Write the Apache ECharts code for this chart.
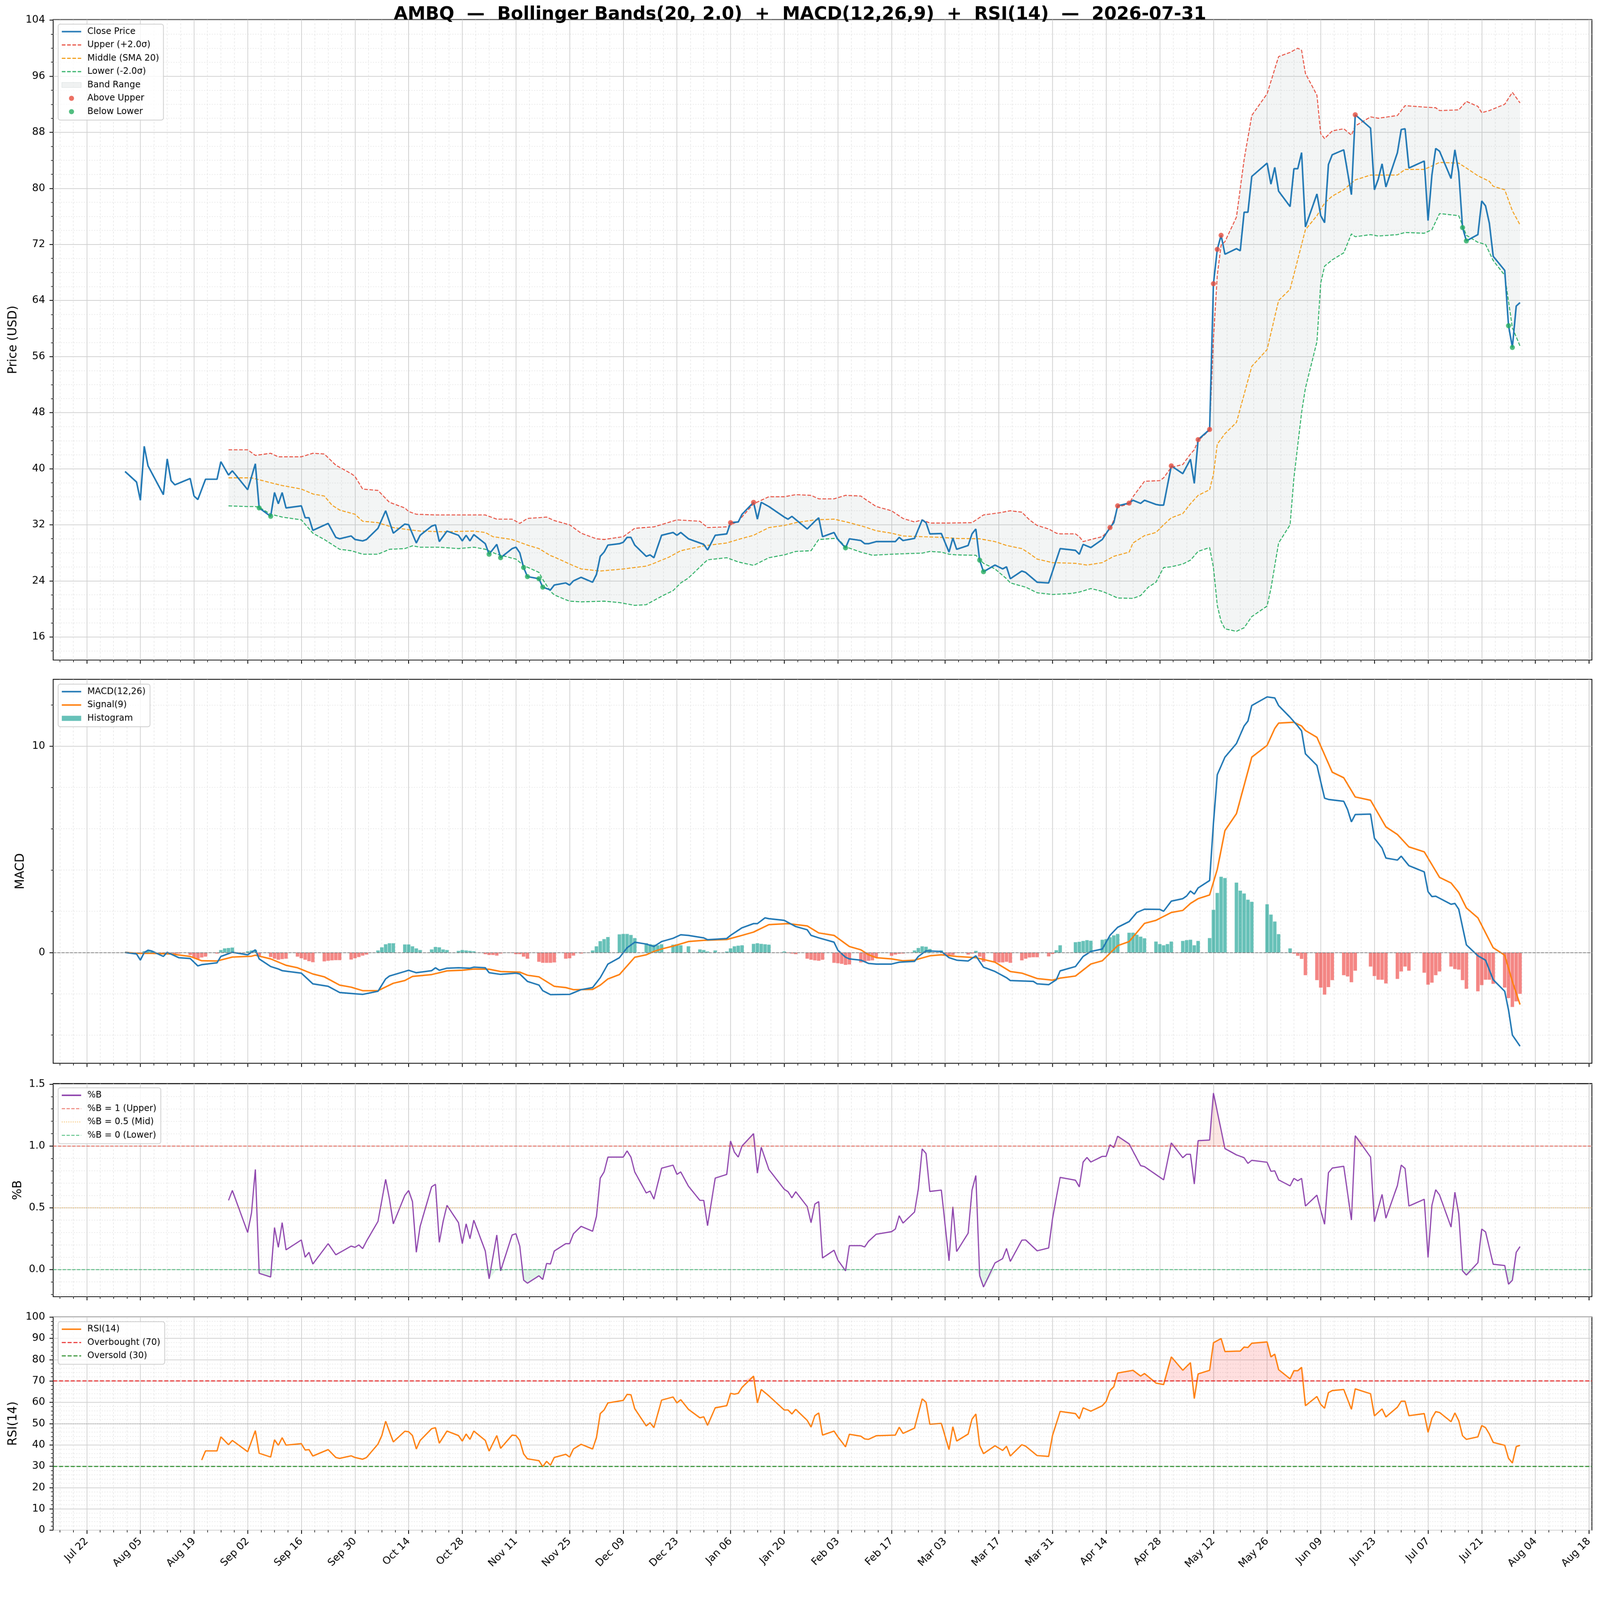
<!DOCTYPE html>
<html>
<head>
<meta charset="utf-8">
<title>AMBQ Bollinger / MACD / RSI</title>
<script src="https://cdn.jsdelivr.net/npm/echarts@6/dist/echarts.min.js"></script>
<style>
  html, body { margin: 0; padding: 0; background: #fff; overflow: hidden; }
  #main { width: 4378px; height: 4322px; transform-origin: 0 0; }
</style>
</head>
<body>
<div id="main"></div>
<script type="text/javascript">
// x values are calendar days counted from Tue 2025-07-22 (day 0)
var tickDays = [0, 14, 28, 42, 56, 70, 84, 98, 112, 126, 140, 154, 168, 182, 196, 210, 224, 238, 252, 266, 280, 294, 308, 322, 336, 350, 364, 378, 392];
var tickLabels = ['Jul 22', 'Aug 05', 'Aug 19', 'Sep 02', 'Sep 16', 'Sep 30', 'Oct 14', 'Oct 28', 'Nov 11', 'Nov 25', 'Dec 09', 'Dec 23', 'Jan 06', 'Jan 20', 'Feb 03', 'Feb 17', 'Mar 03', 'Mar 17', 'Mar 31', 'Apr 14', 'Apr 28', 'May 12', 'May 26', 'Jun 09', 'Jun 23', 'Jul 07', 'Jul 21', 'Aug 04', 'Aug 18'];

// market holidays inside the range (Labor Day ... Independence Day observed)
var holidays = [41, 128, 156, 163, 181, 209, 255, 307, 332, 346];

var closePrice = [[10,39.6],[13,38.1],[14,35.5],[15,43.2],[16,40.4],[20,36.3],[21,41.4],[22,38.3],[23,37.7],[27,38.6],[28,36.1],[29,35.6],[31,38.5],[34,38.5],[35,41.0],[37,39.1],[38,39.7],[42,37.0],[44,40.7],[45,34.4],[48,33.2],[49,36.6],[50,35.0],[51,36.6],[52,34.4],[56,34.7],[57,33.0],[58,33.0],[59,31.2],[63,32.2],[65,30.2],[66,30.0],[69,30.4],[70,29.9],[72,29.7],[73,29.9],[76,31.5],[78,34.0],[80,30.8],[83,32.1],[84,32.0],[86,29.4],[87,30.5],[90,31.8],[91,32.0],[92,29.6],[94,31.1],[97,30.5],[98,29.7],[99,30.5],[100,29.7],[101,30.6],[104,29.3],[105,27.8],[107,29.2],[108,27.3],[111,28.6],[112,28.8],[113,28.0],[114,25.9],[115,24.6],[118,24.3],[119,23.1],[121,22.7],[122,23.4],[125,23.7],[126,23.4],[127,24.0],[129,24.5],[132,23.8],[133,24.9],[134,27.5],[135,28.1],[136,29.1],[139,29.3],[140,29.5],[141,30.2],[142,30.2],[143,29.1],[146,27.5],[147,27.7],[148,27.3],[150,30.5],[153,30.9],[154,30.5],[155,30.9],[157,30.0],[160,29.4],[161,29.2],[162,28.4],[164,30.5],[167,30.7],[168,32.3],[170,32.4],[171,33.5],[174,35.2],[175,32.8],[176,35.2],[178,34.6],[182,33.1],[183,32.8],[184,33.2],[188,31.4],[190,32.5],[191,33.0],[192,30.3],[195,30.9],[196,29.9],[198,28.7],[199,30.0],[202,29.75],[203,29.3],[204,29.3],[206,29.6],[211,29.6],[212,30.2],[213,29.75],[216,30.05],[218,32.7],[219,32.3],[220,30.7],[223,30.75],[225,28.1],[226,30.1],[227,28.5],[230,29.05],[231,30.7],[232,31.4],[233,26.95],[234,25.3],[237,26.25],[239,25.7],[240,26.0],[241,24.3],[244,25.4],[245,25.2],[248,23.8],[251,23.7],[254,28.6],[258,28.35],[259,27.8],[260,29.2],[262,28.75],[265,29.9],[267,31.6],[268,32.3],[269,34.7],[272,35.1],[273,35.5],[275,35.05],[276,35.5],[279,34.9],[280,34.8],[281,34.8],[283,40.4],[286,39.3],[288,41.35],[289,37.9],[290,44.15],[293,45.6],[294,66.4],[295,71.3],[296,73.3],[297,70.6],[300,71.4],[301,71.1],[302,76.6],[303,76.6],[304,81.7],[308,83.6],[309,80.6],[310,83.0],[311,79.6],[314,77.4],[315,82.8],[316,82.8],[317,85.1],[318,74.5],[321,79.2],[322,76.1],[323,75.1],[324,83.4],[325,84.8],[328,85.5],[330,79.1],[331,90.5],[335,88.6],[336,79.8],[337,81.3],[338,83.5],[339,80.2],[342,85.1],[343,88.4],[344,88.5],[345,82.9],[349,83.9],[350,75.4],[351,81.9],[352,85.7],[353,85.3],[356,81.4],[357,85.5],[358,82.3],[359,74.4],[360,72.5],[363,73.4],[364,78.2],[365,77.5],[366,75.0],[367,70.3],[370,68.3],[371,60.4],[372,57.3],[373,63.2],[374,63.7]];

var upperBand = [[37,42.7],[42,42.7],[44,41.9],[48,42.2],[50,41.7],[56,41.7],[59,42.2],[62,42.1],[65,40.5],[69,39.3],[70,38.9],[72,37.1],[76,36.9],[79,35.2],[83,34.4],[84,33.9],[86,33.5],[91,33.4],[104,33.4],[107,32.8],[111,32.8],[113,32.2],[115,32.9],[120,33.1],[122,32.6],[126,32.0],[129,30.8],[133,30.0],[135,29.9],[140,30.3],[143,31.5],[148,31.7],[154,32.7],[160,32.5],[162,31.6],[167,31.7],[170,32.5],[174,35.0],[178,36.0],[182,36.0],[185,36.3],[189,36.2],[191,35.7],[195,35.7],[198,36.2],[202,36.1],[203,35.7],[206,34.6],[210,34.0],[213,32.9],[216,32.4],[218,32.7],[220,32.25],[225,32.25],[231,32.3],[234,33.4],[238,33.7],[241,34.0],[244,33.8],[246,32.7],[248,31.9],[251,31.4],[253,30.8],[254,30.7],[258,30.7],[259,30.3],[260,29.6],[262,29.9],[265,30.3],[267,31.4],[268,32.7],[269,34.5],[272,35.0],[273,36.0],[276,38.2],[280,38.3],[281,38.7],[283,40.2],[286,40.6],[288,42.1],[289,42.7],[290,44.0],[293,45.5],[294,58.5],[295,67.6],[296,71.9],[297,72.4],[300,75.9],[302,84.1],[304,90.4],[308,93.5],[311,98.8],[314,99.4],[316,100.0],[317,99.7],[318,96.4],[321,93.3],[322,87.8],[323,87.1],[325,88.2],[328,88.5],[330,87.6],[331,88.9],[335,90.2],[337,90.0],[342,90.4],[344,91.8],[349,91.6],[352,91.5],[353,91.1],[358,91.2],[360,92.4],[363,91.7],[364,90.8],[366,91.1],[370,92.0],[372,93.7],[374,92.2]];

var middleBand = [[37,38.7],[43,38.7],[48,38.0],[51,37.6],[56,37.1],[59,36.4],[62,36.1],[64,34.8],[66,34.1],[70,33.5],[72,32.5],[76,32.3],[80,31.6],[84,31.3],[87,31.1],[93,31.0],[101,31.1],[104,30.9],[106,30.3],[111,29.9],[115,29.1],[118,28.6],[121,27.6],[122,27.4],[126,26.4],[129,25.7],[134,25.4],[140,25.7],[146,26.1],[148,26.5],[152,27.4],[155,28.3],[161,29.0],[167,29.4],[170,29.9],[174,30.5],[178,31.6],[182,31.9],[185,32.3],[190,32.7],[195,32.8],[199,32.3],[203,31.7],[206,31.15],[210,30.8],[213,30.4],[218,30.3],[223,30.2],[227,30.05],[233,30.0],[237,29.6],[240,29.05],[244,28.6],[246,27.9],[248,27.1],[252,26.6],[258,26.5],[261,26.25],[265,26.6],[268,27.5],[272,28.1],[273,29.4],[276,30.45],[279,30.9],[281,32.0],[283,33.0],[286,33.6],[288,35.0],[290,36.2],[293,37.0],[294,39.2],[295,43.5],[297,45.0],[300,46.6],[304,54.6],[308,57.0],[311,64.0],[314,65.6],[318,74.1],[321,76.1],[323,77.9],[325,78.9],[328,79.8],[331,81.2],[335,81.9],[342,81.9],[344,82.7],[349,82.7],[353,83.7],[358,83.6],[360,82.9],[363,81.8],[366,81.0],[367,80.3],[370,79.8],[372,76.8],[374,74.8]];

var lowerBand = [[37,34.7],[42,34.6],[44,34.6],[45,34.5],[48,33.5],[51,33.1],[56,32.7],[59,30.8],[62,29.9],[66,28.5],[69,28.3],[72,27.8],[76,27.8],[79,28.5],[83,28.6],[85,29.0],[87,28.8],[92,28.8],[97,28.6],[101,28.8],[104,28.5],[107,27.8],[112,27.1],[114,26.2],[118,25.2],[119,24.2],[121,22.5],[122,22.0],[125,21.3],[126,21.1],[129,21.0],[135,21.1],[139,20.9],[143,20.5],[146,20.6],[150,21.8],[153,22.6],[155,23.7],[157,24.4],[161,26.5],[162,27.0],[167,27.3],[170,26.7],[174,26.2],[178,27.3],[182,27.7],[185,28.2],[189,28.3],[191,29.9],[195,30.05],[196,30.0],[198,28.85],[202,28.1],[205,27.65],[210,27.8],[215,27.9],[218,27.95],[220,28.2],[223,28.1],[225,27.8],[227,27.7],[232,27.65],[234,26.5],[237,25.7],[240,24.3],[241,23.7],[245,23.1],[248,22.3],[252,22.05],[257,22.2],[259,22.4],[262,22.9],[265,22.5],[268,21.8],[269,21.55],[273,21.5],[275,21.9],[277,23.1],[279,23.8],[281,25.9],[283,26.0],[286,26.4],[288,26.95],[290,28.2],[293,28.75],[294,25.9],[295,20.5],[296,18.2],[297,17.15],[300,16.8],[302,17.3],[304,18.9],[308,20.4],[309,22.9],[311,29.4],[314,32.0],[315,38.7],[317,48.0],[318,51.5],[321,58.1],[322,66.5],[323,68.9],[325,69.8],[328,70.8],[330,73.5],[331,73.1],[335,73.4],[337,73.2],[342,73.4],[344,73.7],[349,73.6],[351,74.1],[353,76.4],[358,76.1],[360,73.3],[363,72.3],[365,72.0],[367,69.7],[370,67.6],[372,60.1],[374,57.5]];

var aboveUpper = [[168,32.3],[174,35.2],[267,31.6],[269,34.7],[272,35.1],[283,40.4],[290,44.15],[293,45.6],[294,66.4],[295,71.3],[296,73.3],[331,90.5]];
var belowLower = [[45,34.4],[48,33.2],[105,27.8],[108,27.3],[114,25.9],[115,24.6],[118,24.3],[119,23.1],[198,28.7],[233,26.95],[234,25.3],[359,74.4],[360,72.5],[371,60.4],[372,57.3]];

var macdLine = [[10,0],[13,-0.07],[14,-0.37],[15,0.0],[16,0.11],[17,0.07],[20,-0.19],[21,0.01],[24,-0.25],[27,-0.29],[29,-0.65],[30,-0.59],[34,-0.5],[35,-0.19],[38,0.01],[42,-0.11],[44,0.13],[45,-0.31],[48,-0.68],[50,-0.8],[51,-0.88],[56,-1.0],[59,-1.52],[63,-1.64],[66,-1.94],[70,-2.0],[72,-2.03],[76,-1.88],[78,-1.28],[79,-1.14],[83,-0.92],[84,-0.86],[86,-0.98],[90,-0.88],[91,-0.74],[92,-0.86],[94,-0.76],[97,-0.74],[100,-0.76],[101,-0.71],[104,-0.74],[105,-0.98],[108,-1.06],[112,-1.0],[113,-1.04],[115,-1.4],[118,-1.58],[119,-1.85],[121,-2.04],[126,-2.03],[129,-1.8],[132,-1.7],[134,-1.22],[136,-0.56],[139,-0.25],[141,0.23],[143,0.5],[146,0.41],[148,0.29],[150,0.53],[153,0.69],[155,0.86],[157,0.83],[161,0.71],[162,0.62],[167,0.68],[168,0.83],[171,1.2],[174,1.4],[175,1.4],[177,1.68],[178,1.64],[182,1.56],[185,1.26],[188,1.1],[189,0.83],[191,0.71],[195,0.5],[196,0.11],[198,-0.23],[199,-0.31],[202,-0.37],[204,-0.53],[206,-0.56],[210,-0.56],[212,-0.47],[216,-0.43],[217,-0.19],[219,0.08],[223,0.05],[225,-0.25],[227,-0.37],[230,-0.41],[232,-0.16],[234,-0.71],[237,-0.92],[240,-1.22],[241,-1.36],[247,-1.4],[248,-1.52],[251,-1.56],[253,-1.32],[254,-0.89],[258,-0.68],[260,-0.19],[262,0.05],[265,0.17],[267,0.83],[269,1.22],[272,1.5],[274,1.94],[276,2.1],[280,2.09],[281,2.0],[283,2.49],[286,2.61],[287,2.74],[288,2.98],[289,2.83],[290,3.13],[293,3.49],[294,6.27],[295,8.62],[297,9.47],[300,10.13],[302,10.98],[303,11.22],[304,11.97],[308,12.39],[310,12.34],[311,11.97],[314,11.4],[316,10.98],[317,10.74],[318,9.63],[321,9.07],[323,7.48],[324,7.42],[328,7.33],[329,6.93],[330,6.33],[331,6.69],[335,6.71],[336,5.54],[338,5.06],[339,4.58],[342,4.48],[343,4.67],[345,4.21],[349,3.91],[350,2.95],[351,2.71],[352,2.73],[356,2.34],[357,2.38],[358,2.1],[360,0.37],[363,-0.16],[365,-0.37],[367,-1.32],[370,-1.88],[371,-2.79],[372,-4.0],[374,-4.54]];

var signalLine = [[10,0.01],[13,-0.04],[17,-0.04],[22,-0.07],[27,-0.19],[30,-0.4],[34,-0.41],[38,-0.22],[43,-0.18],[44,-0.13],[48,-0.31],[52,-0.62],[55,-0.74],[59,-1.04],[62,-1.18],[66,-1.58],[69,-1.68],[72,-1.85],[76,-1.85],[80,-1.49],[83,-1.36],[85,-1.16],[90,-1.07],[92,-0.98],[94,-0.89],[98,-0.86],[101,-0.8],[105,-0.81],[108,-0.92],[113,-0.95],[115,-1.1],[118,-1.18],[122,-1.64],[125,-1.7],[127,-1.8],[132,-1.79],[134,-1.58],[136,-1.28],[139,-1.07],[143,-0.23],[146,-0.11],[148,0.05],[150,0.17],[153,0.31],[157,0.53],[161,0.59],[167,0.63],[171,0.83],[174,0.99],[178,1.35],[183,1.4],[188,1.29],[191,0.95],[195,0.83],[199,0.29],[202,0.13],[204,-0.11],[206,-0.25],[210,-0.31],[213,-0.4],[216,-0.37],[220,-0.16],[223,-0.11],[227,-0.19],[232,-0.25],[237,-0.47],[241,-0.92],[244,-1.0],[248,-1.26],[252,-1.34],[254,-1.24],[258,-1.14],[262,-0.56],[265,-0.4],[269,0.33],[272,0.53],[276,1.41],[279,1.56],[283,1.94],[286,2.04],[288,2.38],[290,2.61],[293,2.79],[295,4.03],[297,5.91],[300,6.73],[304,9.47],[308,10.04],[310,10.86],[311,11.12],[315,11.16],[317,10.98],[318,10.76],[321,10.43],[325,8.74],[328,8.47],[331,7.54],[335,7.38],[339,6.09],[342,5.72],[345,5.12],[349,4.88],[353,3.64],[356,3.37],[358,2.91],[360,2.16],[363,1.68],[367,0.23],[370,-0.13],[372,-1.4],[374,-2.52]];

// one histogram value per trading day, week by week
var histValues = [
  0.01,
  -0.03, -0.02, 0.06, 0.07, 0.05,
  -0.04, -0.08, -0.03, -0.06, -0.05,
  -0.12, -0.25, -0.31, -0.24, -0.2,
  -0.05, 0.12, 0.2, 0.22, 0.24,
  0.06, 0.1, 0.12, -0.15,
  -0.22, -0.3, -0.35, -0.32, -0.3,
  -0.2, -0.28, -0.35, -0.42, -0.47,
  -0.43, -0.4, -0.38, -0.37, -0.37,
  -0.34, -0.28, -0.22, -0.15, -0.1,
  0.1, 0.25, 0.4, 0.45, 0.45,
  0.39, 0.39, 0.3, 0.2, 0.12,
  0.15, 0.27, 0.25, 0.15, 0.12,
  0.08, 0.12, 0.1, 0.08, 0.06,
  -0.08, -0.12, -0.12, -0.15, -0.05,
  -0.02, -0.08, -0.08, -0.2, -0.3,
  -0.45, -0.5, -0.5, -0.5, -0.48,
  -0.3, -0.28, -0.15, -0.05,
  0.1, 0.3, 0.55, 0.65, 0.75,
  0.88, 0.9, 0.9, 0.85, 0.7,
  0.45, 0.4, 0.38, 0.35, 0.4,
  0.38, 0.4, 0.35, 0.3,
  0.15, 0.12, 0.05, 0.1,
  0.05, 0.2, 0.3, 0.33, 0.35,
  0.42, 0.45, 0.42, 0.4, 0.38,
  0.05, -0.03, -0.05, -0.08,
  -0.3, -0.35, -0.38, -0.4, -0.35,
  -0.5, -0.52, -0.55, -0.6, -0.58,
  -0.48, -0.45, -0.4, -0.38, -0.26,
  -0.16, -0.1, -0.06, -0.05,
  0.1, 0.22, 0.3, 0.28, 0.17,
  0.1, -0.12, -0.15, -0.12, -0.02,
  -0.1, -0.05, 0.08, -0.2, -0.45,
  -0.45, -0.48, -0.48, -0.45, -0.5,
  -0.38, -0.3, -0.24, -0.23, -0.23,
  -0.19, -0.07, 0.11, 0.35,
  0.5, 0.52, 0.56, 0.6, 0.57,
  0.62, 0.65, 0.74, 0.83, 0.9,
  0.96, 0.96, 0.86, 0.77, 0.69,
  0.53, 0.41, 0.35, 0.41, 0.53,
  0.56, 0.6, 0.62, 0.35, 0.56,
  0.7, 2.07, 2.89, 3.67, 3.61,
  3.39, 3.0, 2.86, 2.56, 2.46,
  2.34, 1.84, 1.5, 0.89,
  0.2, -0.05, -0.16, -0.31, -1.1,
  -1.34, -1.7, -2.04, -1.68, -1.34,
  -1.1, -1.16, -1.44, -0.88,
  -0.68, -1.14, -1.32, -1.32, -1.5,
  -1.28, -0.92, -0.68, -0.88,
  -0.98, -1.56, -1.46, -1.1, -0.92,
  -0.68, -0.8, -0.83, -1.34, -1.76,
  -1.88, -1.58, -1.32, -1.32, -1.52,
  -1.7, -2.21, -2.64, -2.37, -2.0
];

var pctB = [[37,0.56],[38,0.64],[42,0.30],[43,0.46],[44,0.81],[45,-0.03],[48,-0.06],[49,0.34],[50,0.18],[51,0.38],[52,0.16],[56,0.24],[57,0.10],[58,0.14],[59,0.045],[63,0.21],[65,0.12],[69,0.19],[70,0.18],[71,0.20],[72,0.17],[73,0.23],[76,0.39],[78,0.73],[79,0.57],[80,0.37],[83,0.60],[84,0.64],[85,0.55],[86,0.14],[87,0.35],[90,0.67],[91,0.69],[92,0.22],[93,0.39],[94,0.52],[97,0.38],[98,0.21],[99,0.37],[100,0.25],[101,0.40],[104,0.15],[105,-0.075],[107,0.28],[108,-0.01],[111,0.28],[112,0.29],[113,0.19],[114,-0.085],[115,-0.11],[118,-0.05],[119,-0.08],[120,0.05],[121,0.045],[122,0.15],[125,0.21],[126,0.21],[127,0.29],[129,0.35],[132,0.31],[133,0.43],[134,0.74],[135,0.79],[136,0.91],[140,0.91],[141,0.96],[142,0.91],[143,0.79],[146,0.62],[147,0.635],[148,0.57],[150,0.82],[153,0.845],[154,0.77],[155,0.79],[157,0.675],[160,0.56],[161,0.56],[162,0.355],[164,0.74],[167,0.77],[168,1.04],[169,0.95],[170,0.91],[171,1.0],[174,1.10],[175,0.78],[176,0.99],[178,0.81],[182,0.65],[183,0.63],[184,0.58],[185,0.63],[188,0.51],[189,0.38],[190,0.53],[191,0.55],[192,0.094],[195,0.157],[196,0.077],[198,-0.01],[199,0.194],[202,0.194],[203,0.183],[204,0.229],[206,0.286],[210,0.307],[211,0.328],[212,0.436],[213,0.376],[216,0.466],[217,0.652],[218,0.976],[219,0.939],[220,0.632],[223,0.643],[225,0.071],[226,0.508],[227,0.146],[230,0.295],[231,0.643],[232,0.761],[233,-0.049],[234,-0.141],[237,0.054],[239,0.089],[240,0.171],[241,0.066],[244,0.238],[245,0.24],[248,0.152],[251,0.175],[252,0.41],[253,0.583],[254,0.746],[258,0.723],[259,0.669],[260,0.87],[261,0.907],[262,0.87],[265,0.916],[266,0.916],[267,1.01],[268,0.987],[269,1.079],[272,1.017],[275,0.841],[276,0.833],[281,0.726],[283,1.025],[286,0.905],[287,0.933],[288,0.933],[289,0.692],[290,1.043],[293,1.048],[294,1.428],[297,0.979],[300,0.928],[302,0.905],[303,0.859],[304,0.884],[308,0.868],[309,0.795],[310,0.799],[311,0.726],[314,0.677],[315,0.738],[316,0.718],[317,0.738],[318,0.514],[321,0.602],[322,0.479],[323,0.367],[324,0.784],[325,0.821],[328,0.836],[330,0.401],[331,1.083],[335,0.91],[336,0.387],[338,0.608],[339,0.416],[342,0.68],[343,0.845],[344,0.818],[345,0.514],[349,0.569],[350,0.098],[351,0.52],[352,0.646],[353,0.603],[356,0.344],[357,0.626],[358,0.451],[359,-0.01],[360,-0.044],[363,0.056],[364,0.328],[365,0.305],[367,0.043],[370,0.033],[371,-0.118],[372,-0.086],[373,0.14],[374,0.186]];

var rsi14 = [[30,32.9],[31,37.2],[34,37.2],[35,43.8],[37,40.1],[38,42.1],[42,36.8],[44,46.7],[45,36.1],[48,34.3],[49,42.4],[50,39.8],[51,43.4],[52,39.9],[56,40.6],[57,37.6],[58,37.8],[59,34.8],[63,37.8],[65,34.1],[66,33.7],[69,34.9],[70,34.1],[72,33.3],[73,34.1],[76,40.4],[77,44.4],[78,51.1],[80,41.4],[83,46.4],[84,46.2],[85,44.4],[86,38.1],[87,42.1],[90,47.6],[91,48.1],[92,40.8],[94,46.5],[97,44.4],[98,41.8],[99,45.1],[100,42.6],[101,46.5],[104,42.1],[105,37.1],[107,44.4],[108,38.4],[111,44.6],[112,44.4],[113,42.1],[114,35.8],[115,33.5],[118,32.6],[119,29.8],[120,32.3],[121,30.5],[122,34.1],[125,35.6],[126,34.3],[127,38.1],[129,40.3],[132,38.1],[133,43.4],[134,54.7],[135,56.4],[136,59.7],[140,60.9],[141,63.7],[142,63.5],[143,57.0],[146,48.9],[147,50.4],[148,48.1],[150,61.0],[153,62.5],[154,59.7],[155,61.2],[157,56.7],[160,52.7],[161,53.2],[162,49.2],[164,57.4],[167,58.4],[168,64.2],[169,63.8],[170,64.2],[171,67.0],[174,72.3],[175,59.7],[176,66.0],[178,63.0],[182,56.4],[183,56.4],[184,54.5],[185,56.7],[188,51.5],[189,48.4],[190,53.7],[191,55.0],[192,44.6],[195,46.5],[196,43.8],[198,39.1],[199,45.0],[202,44.1],[203,42.8],[204,42.6],[206,44.3],[211,44.6],[212,48.3],[213,45.4],[216,47.9],[218,61.6],[219,60.0],[220,49.7],[223,50.1],[225,37.8],[226,48.5],[227,41.8],[230,45.1],[231,52.1],[232,54.5],[233,39.8],[234,35.9],[237,39.6],[239,37.4],[240,39.4],[241,34.8],[244,40.1],[245,39.4],[248,35.0],[251,34.6],[252,44.4],[254,55.7],[258,54.7],[259,52.3],[260,57.4],[262,55.8],[265,58.4],[266,60.4],[267,65.5],[268,67.3],[269,73.7],[273,75.0],[275,72.3],[276,73.5],[279,69.0],[281,68.3],[283,81.3],[286,75.0],[288,78.6],[289,61.7],[290,73.3],[293,75.0],[294,87.9],[296,89.9],[297,83.8],[300,84.0],[301,84.0],[302,85.9],[303,85.7],[304,87.7],[308,88.3],[309,81.3],[310,82.6],[311,75.3],[314,71.0],[315,74.8],[316,74.8],[317,76.4],[318,58.4],[321,62.7],[322,59.0],[323,57.2],[324,64.5],[325,65.5],[328,66.0],[330,56.7],[331,66.3],[335,64.0],[336,53.6],[338,56.9],[339,53.1],[342,57.7],[343,60.5],[344,60.5],[345,53.7],[349,54.7],[350,45.9],[351,52.5],[352,55.6],[353,55.2],[356,50.9],[357,55.0],[358,51.4],[359,44.3],[360,42.6],[363,43.8],[364,49.1],[365,48.1],[366,45.1],[367,41.2],[370,39.8],[371,33.7],[372,31.5],[373,39.2],[374,39.8]];

var priceTicks = [16, 24, 32, 40, 48, 56, 64, 72, 80, 88, 96, 104];
var macdTicks = [0, 10];
var pctBTicks = [0, 0.5, 1.0, 1.5];
var rsiTicks = [0, 10, 20, 30, 40, 50, 60, 70, 80, 90, 100];

var FONT = 'DejaVu Sans';
var XMIN = -8.75, XMAX = 392.75;

// the layout is written in the 4378 x 4322 picture's pixels; scale the box to the real viewport
var box = document.getElementById('main');
var fit = Math.min(window.innerWidth / 4378, window.innerHeight / 4322);
box.style.transform = 'scale(' + fit + ')';

// trading calendar: weekdays from day 10 (Fri 2025-08-01) to day 374 (Fri 2026-07-31), no holidays
var tradingDays = [];
for (var d = 10; d <= 374; d++) {
  if ((d + 1) % 7 < 5 && holidays.indexOf(d) < 0) tradingDays.push(d);
}
var histData = tradingDays.map(function (day, i) {
  var v = histValues[i];
  return { value: [day, v], itemStyle: { color: v >= 0 ? 'rgba(38,166,154,0.7)' : 'rgba(239,83,80,0.7)' } };
});

function minorSteps(from, to, step, majors) {
  var out = [];
  for (var v = from; v <= to + 1e-9; v += step) {
    var r = Math.round(v * 1000) / 1000;
    var isMajor = majors.some(function (m) { return Math.abs(m - r) < 1e-6; });
    if (!isMajor) out.push(r);
  }
  return out;
}
var xMinor = minorSteps(-7, 388.5, 3.5, tickDays);

var panels = [
  { top: 53.6, height: 1752.4, min: 12.7, max: 104.08, major: priceTicks, minor: minorSteps(14, 102, 2, priceTicks),
    name: 'Price (USD)', nameGap: 93, fmt: function (v) { return String(v); } },
  { top: 1858.9, height: 1050.5, min: -5.37, max: 13.24, major: macdTicks, minor: minorSteps(-4, 12, 2, macdTicks),
    name: 'MACD', nameGap: 73, fmt: function (v) { return String(v); } },
  { top: 2964.8, height: 583.2, min: -0.219, max: 1.505, major: pctBTicks, minor: minorSteps(-0.2, 1.4, 0.1, pctBTicks),
    name: '%B', nameGap: 80, fmt: function (v) { return v.toFixed(1); } },
  { top: 3603.6, height: 583.4, min: 0, max: 100, major: rsiTicks, minor: minorSteps(2, 98, 2, rsiTicks),
    name: 'RSI(14)', nameGap: 93, fmt: function (v) { return String(v); } }
];

var grids = [], xAxes = [], yAxes = [];
panels.forEach(function (p, i) {
  grids.push({ left: 145.5, top: p.top, width: 4210.3, height: p.height, containLabel: false,
    show: true, borderColor: '#000', borderWidth: 2.2, backgroundColor: 'transparent' });
  xAxes.push({
    gridIndex: i, type: 'value', position: 'bottom', min: XMIN, max: XMAX,
    axisLine: { show: false, onZero: false },
    axisTick: { show: true, customValues: tickDays, length: 10, lineStyle: { color: '#000', width: 2.2 } },
    axisLabel: { show: i === 3, customValues: tickDays, rotate: 45, margin: 26,
      fontFamily: FONT, fontSize: 28, color: '#000',
      formatter: function (v) { return tickLabels[tickDays.indexOf(Math.round(v))] || ''; } },
    splitLine: { show: true, lineStyle: { color: '#d0d0d0', width: 2 } }
  });
  xAxes.push({
    gridIndex: i, type: 'value', position: 'bottom', min: XMIN, max: XMAX,
    axisLine: { show: false, onZero: false },
    axisTick: { show: true, customValues: xMinor, length: 6, lineStyle: { color: '#000', width: 1.6 } },
    axisLabel: { show: false },
    splitLine: { show: true, lineStyle: { color: '#e2e2e2', width: 1.4, type: [5, 5] } }
  });
  yAxes.push({
    gridIndex: i, type: 'value', position: 'left', min: p.min, max: p.max,
    name: p.name, nameLocation: 'middle', nameGap: p.nameGap, nameRotate: 90,
    nameTextStyle: { fontFamily: FONT, fontSize: 33, color: '#000' },
    axisLine: { show: false, onZero: false },
    axisTick: { show: true, customValues: p.major, length: 10, lineStyle: { color: '#000', width: 2.2 } },
    axisLabel: { show: true, customValues: p.major, formatter: p.fmt, margin: 22,
      fontFamily: FONT, fontSize: 28, color: '#000' },
    splitLine: { show: true, lineStyle: { color: '#d0d0d0', width: 2 } }
  });
  yAxes.push({
    gridIndex: i, type: 'value', position: 'left', min: p.min, max: p.max,
    axisLine: { show: false, onZero: false },
    axisTick: { show: true, customValues: p.minor, length: 6, lineStyle: { color: '#000', width: 1.6 } },
    axisLabel: { show: false },
    splitLine: { show: true, lineStyle: { color: '#e2e2e2', width: 1.4, type: [3, 4] } }
  });
});

// legend rows for line series: hide the marker, keep the line at the plotted width
function lineItem(name, width) {
  return { name: name, itemStyle: { opacity: 0 }, lineStyle: { width: width } };
}

function legendBox(top, items) {
  return {
    orient: 'vertical', left: 159, top: top, data: items,
    itemWidth: 53, itemHeight: 14, itemGap: 8.5, padding: [6.5, 12, 9, 8],
    backgroundColor: 'rgba(255,255,255,0.8)', borderColor: '#cccccc', borderWidth: 2, borderRadius: 6,
    selectedMode: false,
    textStyle: { fontFamily: FONT, fontSize: 24, color: '#000', lineHeight: 28, padding: [0, 0, 0, 12] }
  };
}

function lineSeries(name, data, panel, color, width, dash, z) {
  return { type: 'line', name: name, data: data, xAxisIndex: panel * 2, yAxisIndex: panel * 2,
    showSymbol: false, symbol: 'none', z: z || 2, silent: true,
    lineStyle: { color: color, width: width, type: dash || 'solid' }, itemStyle: { color: color } };
}

function refLine(name, panel, y, color, width, dash) {
  var s = lineSeries(name, [], panel, color, width, dash, 2);
  s.markLine = { silent: true, symbol: 'none', label: { show: false }, animation: false,
    lineStyle: { color: color, width: width, type: dash }, data: [{ yAxis: y }] };
  return s;
}

var closeS = lineSeries('Close Price', closePrice, 0, '#1f77b4', 4.2, 'solid', 4);
var macdS = lineSeries('MACD(12,26)', macdLine, 1, '#1f77b4', 4, 'solid', 4);
macdS.markLine = { silent: true, symbol: 'none', label: { show: false }, animation: false,
  lineStyle: { color: '#808080', width: 2.2, type: [8, 3.5] }, data: [{ yAxis: 0 }] };
var rsiS = lineSeries('RSI(14)', rsi14, 3, '#ff7f0e', 3.6, 'solid', 4);
rsiS.markLine = { silent: true, symbol: 'none', label: { show: false }, animation: false,
  lineStyle: { color: 'rgba(128,128,128,0.7)', width: 2, type: [2, 3] }, data: [{ yAxis: 50 }] };

var bHigh = lineSeries('', pctB.map(function (p) { return [p[0], Math.max(p[1], 1)]; }), 2, 'rgba(0,0,0,0)', 0, 'solid', 1);
bHigh.areaStyle = { origin: 1, color: 'rgba(231,76,60,0.2)' };
var bLow = lineSeries('', pctB.map(function (p) { return [p[0], Math.min(p[1], 0)]; }), 2, 'rgba(0,0,0,0)', 0, 'solid', 1);
bLow.areaStyle = { origin: 0, color: 'rgba(39,174,96,0.2)' };
var rHigh = lineSeries('', rsi14.map(function (p) { return [p[0], Math.max(p[1], 70)]; }), 3, 'rgba(0,0,0,0)', 0, 'solid', 1);
rHigh.areaStyle = { origin: 70, color: 'rgba(255,0,0,0.18)' };

var option = {
  animation: false,
  backgroundColor: '#ffffff',
  title: {
    text: 'AMBQ  \u2014  Bollinger Bands(20, 2.0)  +  MACD(12,26,9)  +  RSI(14)  \u2014  2026-07-31',
    left: 'center', top: 16, padding: 0,
    textStyle: { fontFamily: FONT, fontSize: 49, fontWeight: 'bold', color: '#000' }
  },
  grid: grids,
  xAxis: xAxes,
  yAxis: yAxes,
  legend: [
    legendBox(66, [lineItem('Close Price', 4.2), lineItem('Upper (+2.0\u03c3)', 2.8), lineItem('Middle (SMA 20)', 2.8), lineItem('Lower (-2.0\u03c3)', 2.8),
      { name: 'Band Range', icon: 'rect', itemStyle: { color: 'rgba(149,165,166,0.14)', borderColor: 'rgba(149,165,166,0.3)', borderWidth: 1 } },
      { name: 'Above Upper', icon: 'circle' }, { name: 'Below Lower', icon: 'circle' }]),
    legendBox(1872, [lineItem('MACD(12,26)', 4.2), lineItem('Signal(9)', 4.2),
      { name: 'Histogram', icon: 'rect', itemStyle: { color: 'rgba(38,166,154,0.7)' } }]),
    legendBox(2976.5, [lineItem('%B', 4), lineItem('%B = 1 (Upper)', 2.6), lineItem('%B = 0.5 (Mid)', 2.2), lineItem('%B = 0 (Lower)', 2.6)]),
    legendBox(3616.5, [lineItem('RSI(14)', 4), lineItem('Overbought (70)', 3), lineItem('Oversold (30)', 3)])
  ],
  series: [
    {
      type: 'custom', name: 'Band Range', xAxisIndex: 0, yAxisIndex: 0, z: 1, silent: true,
      itemStyle: { color: 'rgba(149,165,166,0.14)' },
      data: [upperBand[0]],
      renderItem: function (params, api) {
        var pts = upperBand.map(function (p) { return api.coord(p); });
        lowerBand.slice().reverse().forEach(function (p) { pts.push(api.coord(p)); });
        return { type: 'polygon', shape: { points: pts }, style: { fill: 'rgba(149,165,166,0.11)', stroke: null } };
      }
    },
    lineSeries('Upper (+2.0\u03c3)', upperBand, 0, '#e74c3c', 2.6, [10, 4.5], 2),
    lineSeries('Middle (SMA 20)', middleBand, 0, '#f39c12', 2.6, [10, 4.5], 2),
    lineSeries('Lower (-2.0\u03c3)', lowerBand, 0, '#27ae60', 2.6, [10, 4.5], 2),
    closeS,
    { type: 'scatter', name: 'Above Upper', data: aboveUpper, xAxisIndex: 0, yAxisIndex: 0, z: 5,
      symbol: 'circle', symbolSize: 14, itemStyle: { color: '#e74c3c' }, silent: true },
    { type: 'scatter', name: 'Below Lower', data: belowLower, xAxisIndex: 0, yAxisIndex: 0, z: 5,
      symbol: 'circle', symbolSize: 14, itemStyle: { color: '#27ae60' }, silent: true },

    { type: 'bar', name: 'Histogram', data: histData, xAxisIndex: 2, yAxisIndex: 2, barWidth: 9.5, z: 1, silent: true },
    macdS,
    lineSeries('Signal(9)', signalLine, 1, '#ff7f0e', 4, 'solid', 3),

    bHigh, bLow,
    lineSeries('%B', pctB, 2, '#8e44ad', 3.2, 'solid', 4),
    refLine('%B = 1 (Upper)', 2, 1, 'rgba(231,76,60,0.75)', 2.4, [9, 4]),
    refLine('%B = 0.5 (Mid)', 2, 0.5, 'rgba(243,156,18,0.7)', 2, [2.5, 3.5]),
    refLine('%B = 0 (Lower)', 2, 0, 'rgba(39,174,96,0.75)', 2.4, [9, 4]),

    rHigh,
    rsiS,
    refLine('Overbought (70)', 3, 70, 'rgba(230,20,20,0.85)', 2.8, [11, 5]),
    refLine('Oversold (30)', 3, 30, 'rgba(20,130,20,0.85)', 2.8, [11, 5])
  ]
};

var myChart = echarts.init(box, null, { renderer: 'canvas', devicePixelRatio: 1 });
myChart.setOption(option);
</script>
</body>
</html>
